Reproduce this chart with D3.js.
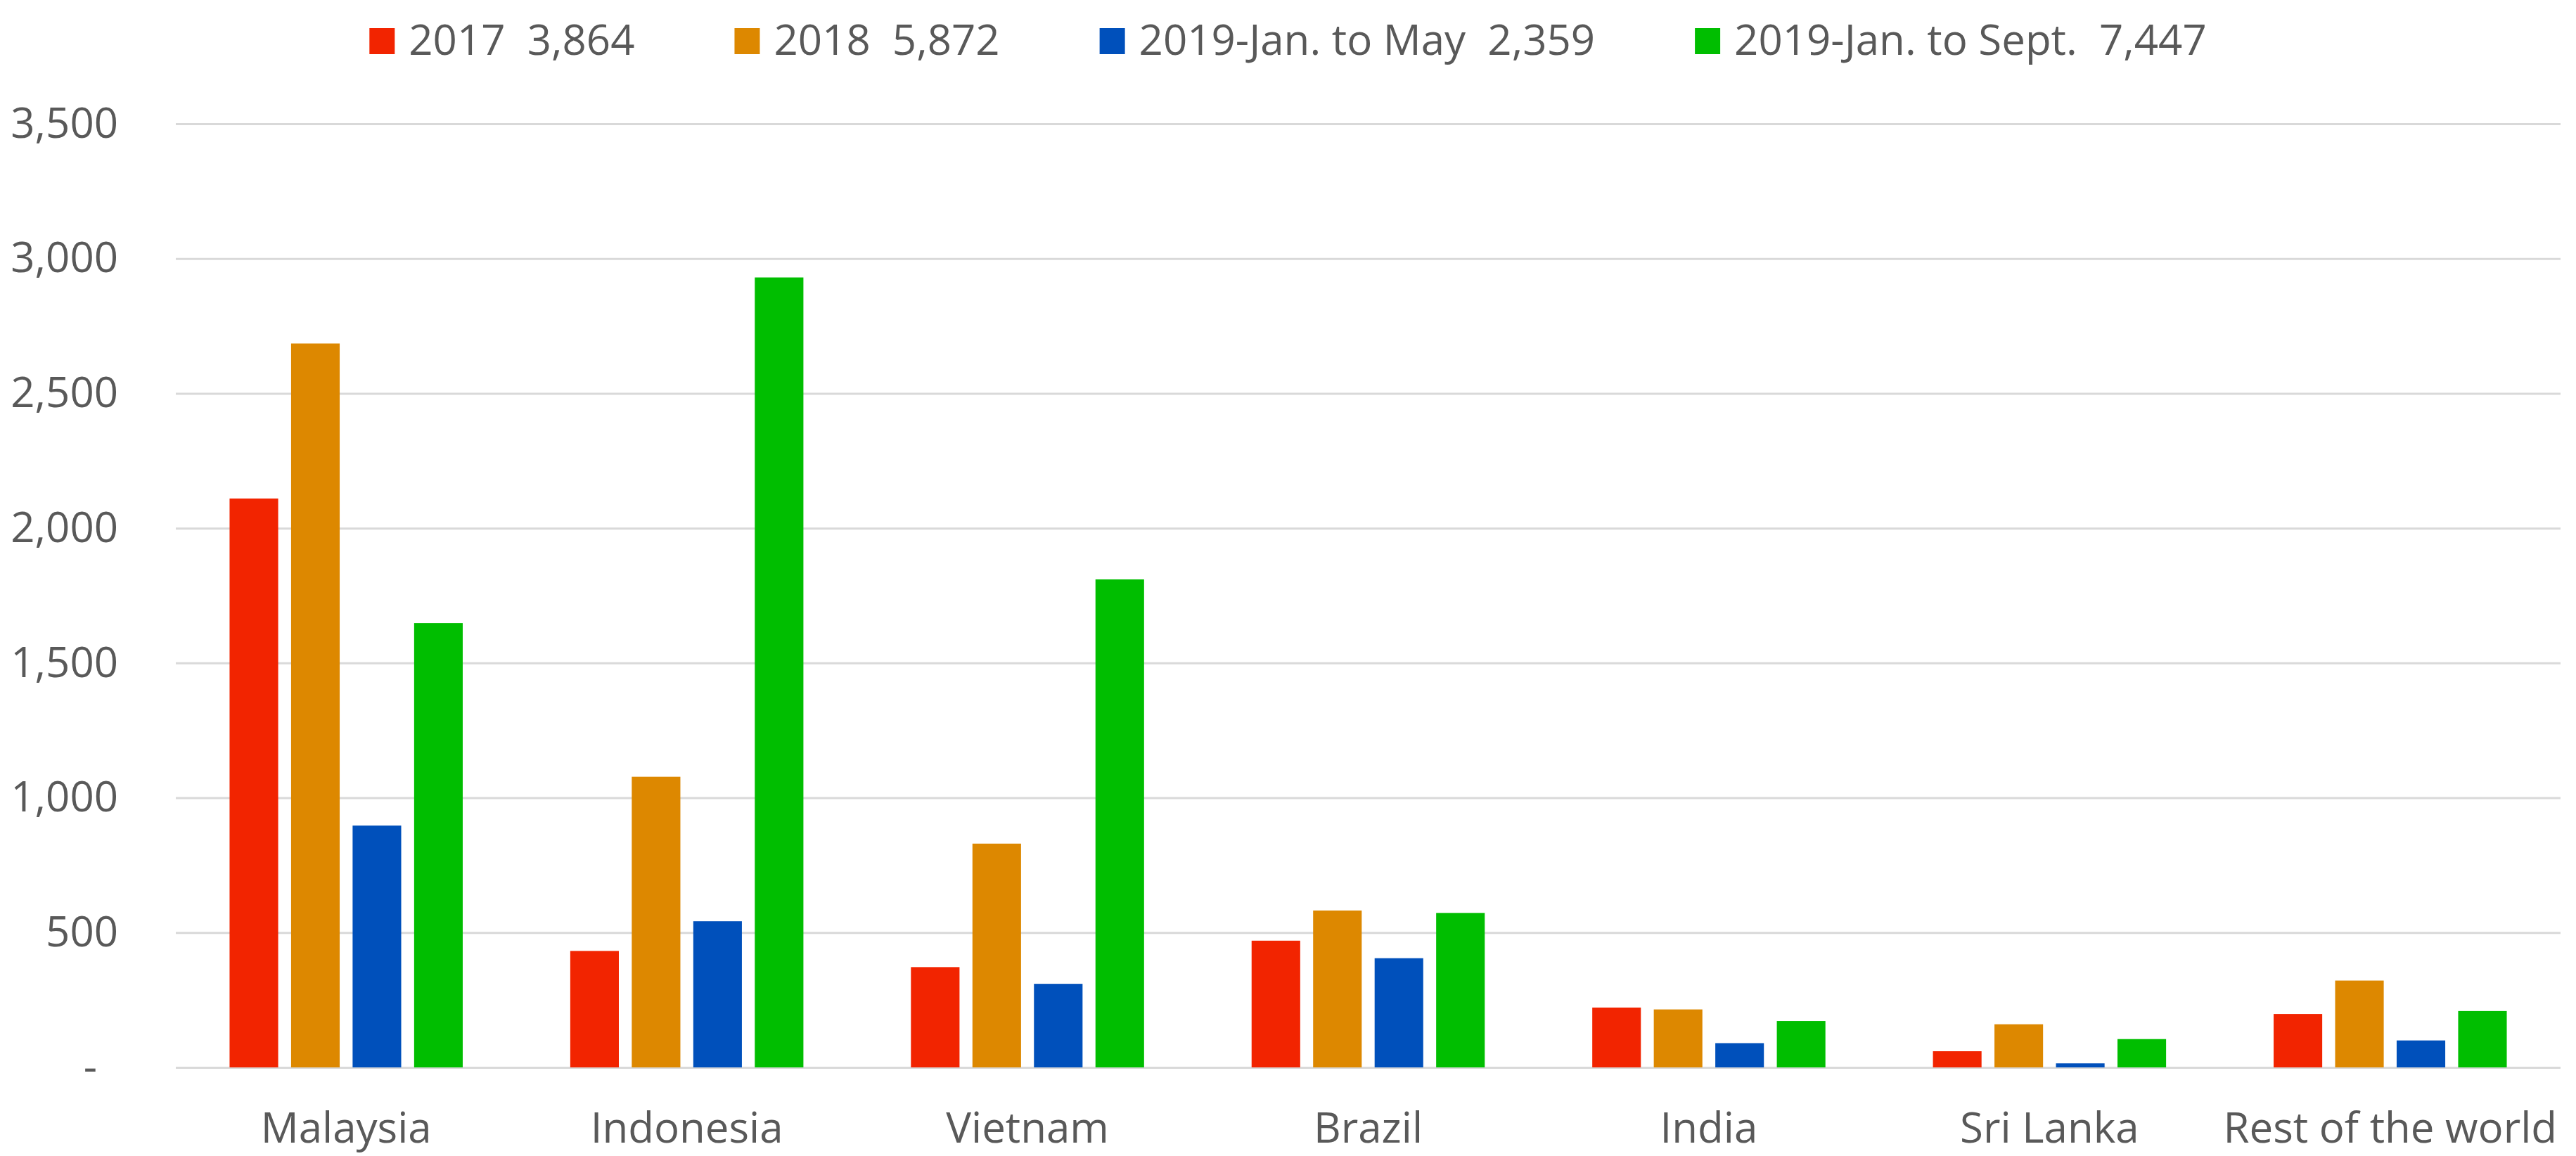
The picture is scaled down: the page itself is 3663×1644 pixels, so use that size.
<!DOCTYPE html>
<html>
<head>
<meta charset="utf-8">
<script src="https://cdn.jsdelivr.net/npm/d3@7"></script>
<style>
  html, body { margin: 0; padding: 0; background: #fff; }
  svg { display: block; font-family: "Open Sans", sans-serif; }
  .legend text { white-space: pre; }
</style>
</head>
<body>
<svg id="chart"></svg>
<script>
const countries = ["Malaysia", "Indonesia", "Vietnam", "Brazil", "India", "Sri Lanka", "Rest of the world"];
const seriesNames = ["2017", "2018", "2019-Jan. to May", "2019-Jan. to Sept."];
const seriesTotals = ["3,864", "5,872", "2,359", "7,447"];
const v2017 = [2110, 432, 372, 470, 222, 60, 198];
const v2018 = [2685, 1078, 830, 582, 215, 160, 322];
const v2019May = [897, 542, 310, 405, 90, 15, 100];
const v2019Sept = [1648, 2930, 1810, 573, 172, 105, 209];
const yTicks = [0, 500, 1000, 1500, 2000, 2500, 3000, 3500];
const colors = ["#f22400", "#dd8800", "#0050bb", "#00be00"];

const width = 3663, height = 1644;
const margin = {top: 176, right: 22, bottom: 126, left: 250};
const seriesValues = [v2017, v2018, v2019May, v2019Sept];

const svg = d3.select("#chart").attr("width", width).attr("height", height);

const x0 = d3.scaleBand().domain(countries).range([margin.left, width - margin.right]);
const x1 = d3.scaleBand().domain(seriesNames).range([0, x0.bandwidth()])
    .paddingInner(0.21).paddingOuter(0.874);
const y = d3.scaleLinear().domain([0, 3500]).range([height - margin.bottom, margin.top]);
const color = d3.scaleOrdinal(seriesNames, colors);

// gridlines + y labels
const yAxis = svg.append("g")
    .attr("transform", `translate(${margin.left},0)`)
    .call(d3.axisLeft(y).tickValues(yTicks)
      .tickSize(-(width - margin.left - margin.right))
      .tickPadding(82)
      .tickFormat(d => d === 0 ? "-" : d3.format(",")(d)));
yAxis.select(".domain").remove();
yAxis.selectAll(".tick line").attr("stroke", "#d9d9d9").attr("stroke-width", 3);
yAxis.selectAll(".tick text")
    .attr("fill", "#595959").attr("font-size", 60)
    .attr("font-family", "Open Sans, sans-serif")
    .attr("dx", d => d === 0 ? -30 : 0);

// bars
const rows = countries.map((c, i) => ({country: c, values: seriesNames.map((s, j) => ({series: s, value: seriesValues[j][i]}))}));
svg.append("g").selectAll("g")
  .data(rows)
  .join("g")
    .attr("transform", d => `translate(${x0(d.country)},0)`)
  .selectAll("rect")
  .data(d => d.values)
  .join("rect")
    .attr("x", d => x1(d.series))
    .attr("y", d => y(d.value))
    .attr("width", x1.bandwidth())
    .attr("height", d => y(0) - y(d.value))
    .attr("fill", d => color(d.series));

// x labels
const xAxis = svg.append("g")
    .attr("transform", `translate(0,${height - margin.bottom})`)
    .call(d3.axisBottom(x0).tickSize(0).tickPadding(64));
xAxis.select(".domain").remove();
xAxis.selectAll(".tick text")
    .attr("fill", "#595959").attr("font-size", 60)
    .attr("font-family", "Open Sans, sans-serif");

// legend
const legend = svg.append("g").attr("class", "legend");
let lx = 0;
seriesNames.forEach((s, i) => {
  const item = legend.append("g").attr("transform", `translate(${lx},0)`);
  item.append("rect").attr("x", 0).attr("y", 40).attr("width", 36).attr("height", 37).attr("fill", colors[i]);
  const t = item.append("text")
      .attr("x", 56).attr("y", 78)
      .attr("font-size", 60).attr("fill", "#595959")
      .text(s + "  " + seriesTotals[i]);
  lx += 56 + t.node().getComputedTextLength() + 142;
});
const lw = lx - 142;
legend.attr("transform", `translate(${(width - lw) / 2},0)`);
</script>
</body>
</html>
